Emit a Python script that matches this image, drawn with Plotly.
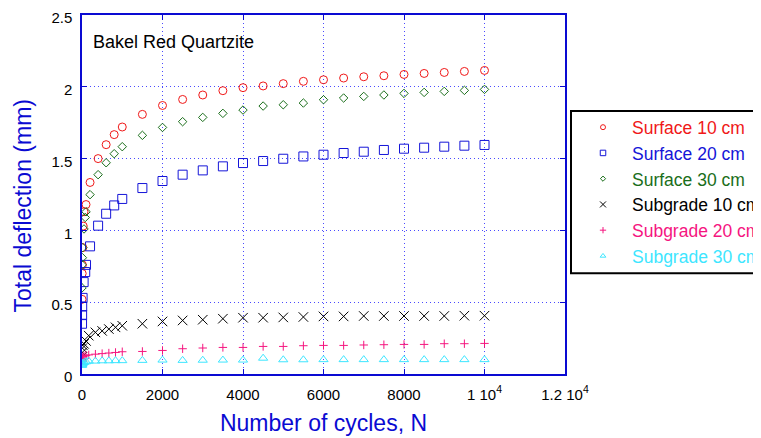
import plotly.graph_objects as go

# ---------------- data ----------------
x_s10 = [1, 5, 10, 20, 30, 50, 100, 200, 400, 600, 800, 1000, 1500, 2000, 2500, 3000, 3500,
         4000, 4500, 5000, 5500, 6000, 6500, 7000, 7500, 8000, 8500, 9000, 9500, 10000]
y_s10 = [0.52, 0.70, 0.76, 0.88, 1.03, 1.13, 1.18, 1.334, 1.50, 1.597, 1.667, 1.72, 1.808, 1.870,
         1.912, 1.943, 1.973, 1.994, 2.006, 2.022, 2.038, 2.049, 2.061, 2.070, 2.077, 2.086,
         2.093, 2.100, 2.107, 2.114]

x_s20 = [1, 3, 5, 15, 40, 80, 100, 200, 400, 600, 800, 1000, 1500, 2000, 2500, 3000, 3500,
         4000, 4500, 5000, 5500, 6000, 6500, 7000, 7500, 8000, 8500, 9000, 9500, 10000]
y_s20 = [0.35, 0.41, 0.47, 0.53, 0.64, 0.71, 0.76, 0.889, 1.033, 1.116, 1.174, 1.219, 1.295,
         1.344, 1.388, 1.418, 1.446, 1.469, 1.483, 1.499, 1.515, 1.527, 1.539, 1.548, 1.560,
         1.569, 1.576, 1.583, 1.590, 1.595]

x_s30 = [1, 5, 10, 20, 50, 80, 100, 200, 400, 600, 800, 1000, 1500, 2000, 2500, 3000, 3500,
         4000, 4500, 5000, 5500, 6000, 6500, 7000, 7500, 8000, 8500, 9000, 9500, 10000]
y_s30 = [0.60, 0.76, 0.81, 0.88, 1.01, 1.09, 1.13, 1.249, 1.388, 1.471, 1.534, 1.583, 1.662,
         1.717, 1.757, 1.787, 1.815, 1.838, 1.866, 1.875, 1.887, 1.910, 1.922, 1.933, 1.943,
         1.954, 1.961, 1.968, 1.975, 1.982]

x_sub = [1, 5, 10, 20, 50, 100, 167, 333, 500, 667, 833, 1000, 1500, 2000, 2500, 3000, 3500,
         4000, 4500, 5000, 5500, 6000, 6500, 7000, 7500, 8000, 8500, 9000, 9500, 10000]
y_g10 = [0.12, 0.15, 0.18, 0.20, 0.21, 0.23, 0.267, 0.29, 0.30, 0.313, 0.325, 0.336, 0.350,
         0.366, 0.373, 0.378, 0.385, 0.392, 0.392, 0.394, 0.397, 0.401, 0.401, 0.404, 0.404,
         0.404, 0.404, 0.404, 0.406, 0.406]
y_g20 = [0.09, 0.10, 0.11, 0.12, 0.125, 0.13, 0.133, 0.138, 0.142, 0.146, 0.150, 0.155, 0.157,
         0.164, 0.176, 0.181, 0.185, 0.185, 0.192, 0.192, 0.197, 0.199, 0.199, 0.202, 0.204,
         0.206, 0.206, 0.211, 0.211, 0.213]
y_g30 = [0.06, 0.065, 0.07, 0.075, 0.08, 0.085, 0.09, 0.09, 0.092, 0.092, 0.093, 0.093, 0.095,
         0.097, 0.095, 0.096, 0.097, 0.097, 0.110, 0.099, 0.099, 0.100, 0.100, 0.100, 0.100,
         0.100, 0.100, 0.100, 0.100, 0.100]

series_names = ["Surface 10 cm", "Surface 20 cm", "Surface 30 cm",
                "Subgrade 10 cm", "Subgrade 20 cm", "Subgrade 30 cm"]
x_tickvals = [0, 2000, 4000, 6000, 8000, 10000, 12000]
x_ticktext = ["0", "2000", "4000", "6000", "8000", "1 10<sup>4</sup>", "1.2 10<sup>4</sup>"]
y_tickvals = [0, 0.5, 1, 1.5, 2, 2.5]
y_ticktext = ["0", "0.5", "1", "1.5", "2", "2.5"]

# ---------------- styles ----------------
colors = ["#f01818", "#1515d8", "#1a6e1a", "#000000", "#f5157f", "#3ee6ff"]
symbols = ["circle-open", "square-open", "diamond-open",
           "x-thin-open", "cross-thin-open", "triangle-up-open"]
sizes = [8, 9, 6.5, 9.5, 6, 8]
legend_sizes = [5, 5.5, 4, 6, 4.5, 5]

xs = [x_s10, x_s20, x_s30, x_sub, x_sub, x_sub]
ys = [y_s10, y_s20, y_s30, y_g10, y_g20, y_g30]

FONT = "Liberation Sans, Arial, sans-serif"
AXBLUE = "#0a0ad2"
GRIDBLUE = "#4a4aff"

# page body has an 8px margin: work in page pixels and convert
OFF = 8
W, H = 761 - OFF, 438 - OFF
L, R, T, B = 82 - OFF, 565 - OFF, 15 - OFF, 374 - OFF


def px(xp):
    return (xp - OFF - L) / (R - L)


def py(yp):
    return (B - (yp - OFF)) / (B - T)


fig = go.Figure()
for i in range(6):
    fig.add_trace(go.Scatter(
        x=xs[i], y=ys[i], mode="markers", name=series_names[i], showlegend=False,
        marker=dict(symbol=symbols[i], size=sizes[i], color=colors[i],
                    line=dict(width=1, color=colors[i]))))
for i in range(6):
    fig.add_trace(go.Scatter(
        x=[None], y=[None], mode="markers",
        name='<span style="color:%s">%s</span>' % (colors[i], series_names[i]),
        marker=dict(symbol=symbols[i], size=legend_sizes[i], color=colors[i],
                    line=dict(width=1, color=colors[i]))))

axis_common = dict(
    showline=True, linecolor=AXBLUE, linewidth=1.5, mirror="ticks",
    ticks="inside", ticklen=5, tickcolor=AXBLUE, tickwidth=1,
    showgrid=True, gridcolor=GRIDBLUE, gridwidth=1, griddash="1px,3px",
    zeroline=False, ticklabeloverflow="allow",
    tickfont=dict(family=FONT, size=15, color="black"),
)

fig.update_layout(
    width=W, height=H,
    margin=dict(l=L, r=W - R, t=T, b=H - B, autoexpand=False),
    paper_bgcolor="white", plot_bgcolor="white",
    font=dict(family=FONT),
    xaxis=dict(range=[0, 12000], tickmode="array", tickvals=x_tickvals, ticktext=x_ticktext,
               ticklabelstandoff=6,
               title=dict(text="Number of cycles, N", font=dict(family=FONT, size=23, color=AXBLUE),
                          standoff=13),
               **axis_common),
    yaxis=dict(range=[0, 2.5], tickmode="array", tickvals=y_tickvals, ticktext=y_ticktext,
               ticklabelstandoff=5, ticklabelshift=3, **axis_common),
    legend=dict(x=px(574), y=py(109.3), xanchor="left", yanchor="top",
                borderwidth=0, bgcolor="rgba(0,0,0,0)", itemwidth=48,
                font=dict(family=FONT, size=17.5)),
    shapes=[dict(type="rect", xref="paper", yref="paper",
                 x0=px(571), x1=px(900), y0=py(111), y1=py(273.3),
                 line=dict(color="black", width=2), fillcolor="white", layer="below")],
    annotations=[
        dict(text="Bakel Red Quartzite", xref="paper", yref="paper",
             x=px(91), y=py(42), xanchor="left", yanchor="middle",
             showarrow=False, font=dict(family=FONT, size=18, color="black")),
        dict(text="Total deflection (mm)", xref="paper", yref="paper", textangle=-90,
             x=px(22.5), y=py(206), xanchor="center", yanchor="middle",
             showarrow=False, font=dict(family=FONT, size=23, color=AXBLUE)),
    ],
)

fig.write_html("out.html")
